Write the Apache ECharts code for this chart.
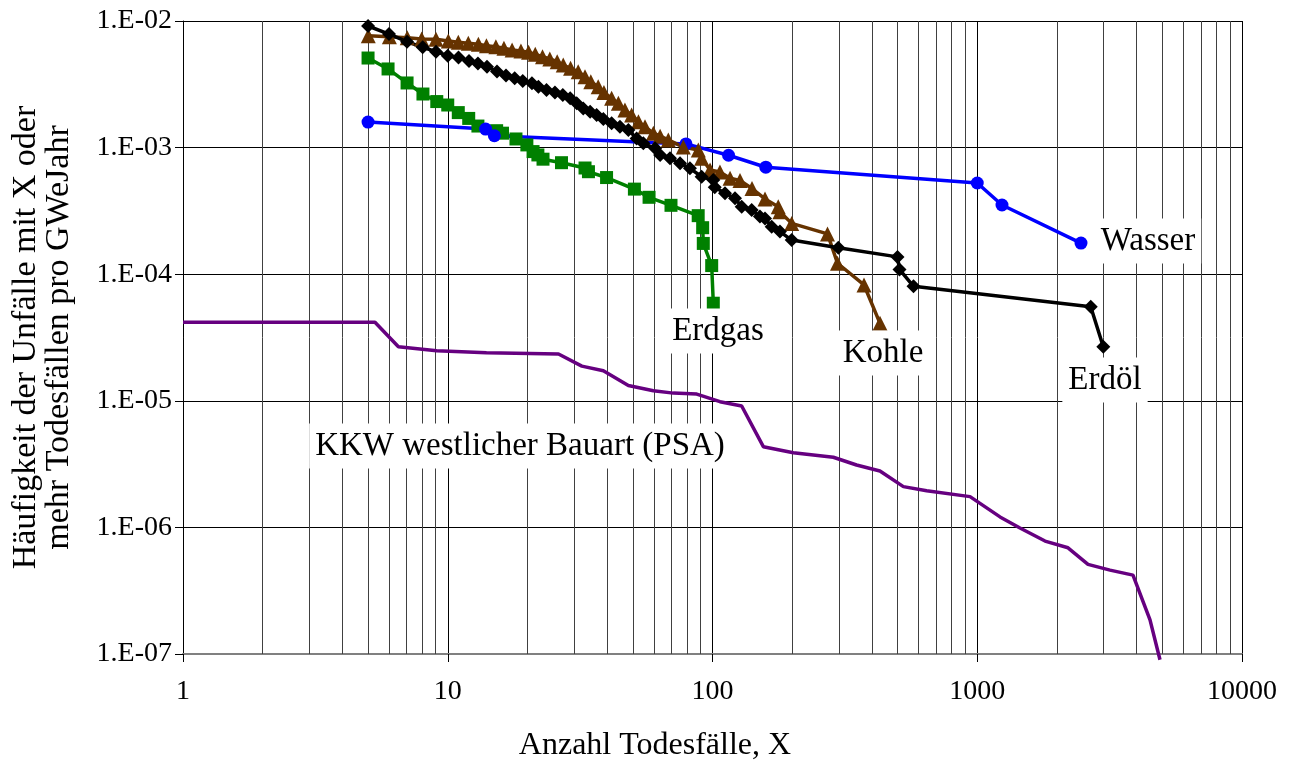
<!DOCTYPE html>
<html>
<head>
<meta charset="utf-8">
<script src="https://cdn.jsdelivr.net/npm/echarts@6/dist/echarts.min.js"></script>
<style>
  html, body { margin: 0; padding: 0; background: #fff; }
  #chart { width: 1293px; height: 767px; }
</style>
</head>
<body>
<div id="chart"></div>
<script>
// Wasser (hydro)
const wasserX = [5, 13.9, 15, 79.4, 115, 159, 1000, 1240, 2465];
const wasserY = [1.59e-3, 1.40e-3, 1.24e-3, 1.07e-3, 8.7e-4, 7.0e-4, 5.25e-4, 3.52e-4, 1.76e-4];

// Erdgas (natural gas)
const erdgasX = [5.0, 5.95, 7.02, 8.06, 9.09, 10.0, 10.96, 12.0, 13.0, 15.3, 16.1, 18.1, 19.9, 21.0,
  21.9, 22.9, 26.9, 33.0, 34.0, 39.8, 50.7, 57.6, 69.7, 88.3, 91.8, 92.3, 99.3, 100.7];
const erdgasY = [5.1e-3, 4.18e-3, 3.24e-3, 2.65e-3, 2.31e-3, 2.17e-3, 1.89e-3, 1.70e-3, 1.48e-3, 1.36e-3,
  1.30e-3, 1.17e-3, 1.05e-3, 9.3e-4, 8.75e-4, 8.1e-4, 7.6e-4, 6.9e-4, 6.45e-4, 5.8e-4, 4.7e-4, 4.05e-4,
  3.5e-4, 2.9e-4, 2.33e-4, 1.75e-4, 1.17e-4, 5.9e-5];

// Kohle (coal)
const kohleX = [5.01, 6.02, 7.03, 7.97, 9.03, 10.05, 10.96, 11.96, 13.05, 14.0, 15.2, 16.3, 17.5, 18.9,
  20.2, 21.4, 22.8, 24.3, 25.9, 27.3, 29.1, 31.1, 33.0, 34.7, 37.0, 38.9, 41.6, 44.1, 46.7, 49.5, 52.5,
  55.6, 59.8, 63.4, 68.1, 77.6, 88.4, 91.0, 97.9, 106.7, 116.5, 127.0, 141.0, 157.9, 177.2, 179.8, 199.1,
  271.9, 296.6, 373.5, 429.3];
const kohleY = [7.65e-3, 7.52e-3, 7.38e-3, 7.21e-3, 7.17e-3, 6.95e-3, 6.79e-3, 6.66e-3, 6.55e-3, 6.38e-3,
  6.27e-3, 6.09e-3, 5.90e-3, 5.79e-3, 5.66e-3, 5.45e-3, 5.22e-3, 5.01e-3, 4.77e-3, 4.49e-3, 4.23e-3,
  3.98e-3, 3.63e-3, 3.31e-3, 3.03e-3, 2.73e-3, 2.45e-3, 2.24e-3, 1.98e-3, 1.81e-3, 1.60e-3, 1.46e-3,
  1.30e-3, 1.23e-3, 1.15e-3, 1.01e-3, 9.57e-4, 8.23e-4, 6.65e-4, 6.42e-4, 5.72e-4, 5.50e-4, 4.75e-4,
  3.93e-4, 3.41e-4, 3.12e-4, 2.52e-4, 2.08e-4, 1.22e-4, 8.22e-5, 4.09e-5];

// Erdöl (oil)
const erdoelX = [5.00, 6.00, 7.02, 8.04, 9.03, 10.0, 10.98, 12.03, 13.0, 14.07, 15.35, 16.6, 17.9, 19.2,
  20.8, 22.0, 23.6, 25.4, 27.2, 29.0, 30.7, 32.5, 34.5, 36.5, 38.7, 41.6, 44.7, 48.1, 51.7, 54.8, 60.7,
  63.4, 69.1, 75.4, 82.2, 91.0, 100.7, 102, 111.5, 121.6, 128.9, 140.6, 151.1, 157.9, 167.3, 179.8,
  199.1, 298.7, 499.8, 508.5, 574.4, 2683, 2993];
const erdoelY = [9.13e-3, 7.89e-3, 6.86e-3, 6.20e-3, 5.72e-3, 5.32e-3, 5.15e-3, 4.83e-3, 4.62e-3, 4.36e-3,
  3.99e-3, 3.71e-3, 3.53e-3, 3.36e-3, 3.22e-3, 3.03e-3, 2.85e-3, 2.73e-3, 2.60e-3, 2.45e-3, 2.24e-3,
  2.04e-3, 1.92e-3, 1.81e-3, 1.68e-3, 1.56e-3, 1.46e-3, 1.38e-3, 1.18e-3, 1.08e-3, 9.87e-4, 8.74e-4,
  8.23e-4, 7.52e-4, 6.86e-4, 5.89e-4, 5.55e-4, 4.86e-4, 4.36e-4, 3.98e-4, 3.41e-4, 3.21e-4, 2.85e-4,
  2.76e-4, 2.37e-4, 2.17e-4, 1.86e-4, 1.62e-4, 1.37e-4, 1.09e-4, 8.02e-5, 5.54e-5, 2.67e-5];

// KKW westlicher Bauart (PSA)
const kkwX = [1, 5.31, 6.51, 9.08, 14.0, 26.2, 32.1, 38.7, 48.1, 59.8, 71.1, 87.2, 106.7, 128.9, 155.6,
  202, 286, 350, 429, 526, 644, 939, 1219, 1450, 1803, 2202, 2620, 3173, 3875, 4493, 4900];
const kkwY = [4.17e-5, 4.17e-5, 2.67e-5, 2.49e-5, 2.40e-5, 2.34e-5, 1.88e-5, 1.73e-5, 1.32e-5, 1.20e-5,
  1.15e-5, 1.13e-5, 9.84e-6, 9.10e-6, 4.34e-6, 3.89e-6, 3.58e-6, 3.11e-6, 2.79e-6, 2.10e-6, 1.95e-6,
  1.75e-6, 1.21e-6, 9.9e-7, 7.8e-7, 6.9e-7, 5.1e-7, 4.6e-7, 4.2e-7, 1.86e-7, 9.0e-8];

// vertical minor grid lines (2..9 in each decade)
const minorGridX = [];
[1, 10, 100, 1000].forEach((d) => {
  [2, 3, 4, 5, 6, 7, 8, 9].forEach((m) => minorGridX.push(m * d));
});

const font = '"Liberation Serif", "Times New Roman", serif';

const pairs = (xs, ys) => xs.map((x, i) => [x, ys[i]]);

const chart = echarts.init(document.getElementById('chart'));

const lineSeries = (name, xs, ys, color, symbol, size, width) => ({
  name: name,
  type: 'line',
  data: pairs(xs, ys),
  symbol: symbol,
  symbolSize: size,
  showSymbol: symbol !== 'none',
  lineStyle: { color: color, width: width || 3 },
  itemStyle: { color: color, borderWidth: 0 },
  z: 5,
});

const options = {
  animation: false,
  backgroundColor: '#fff',
  grid: {
    left: 183,
    right: 51,
    top: 21,
    bottom: 113,
  },
  xAxis: {
    type: 'log',
    logBase: 10,
    min: 1,
    max: 10000,
    name: 'Anzahl Todesfälle, X',
    nameLocation: 'middle',
    nameGap: 76,
    nameTextStyle: {
      fontFamily: font,
      fontSize: 32,
      color: '#000',
      padding: [0, 115, 0, 0],
    },
    axisLine: {
      show: true,
      onZero: false,
      lineStyle: { color: '#808080', width: 2 },
    },
    axisTick: {
      show: true,
      length: 8,
      lineStyle: { color: '#000' },
    },
    axisLabel: {
      fontFamily: font,
      fontSize: 28,
      color: '#000',
      margin: 24,
      formatter: (v) => String(Math.round(v)),
    },
    splitLine: {
      show: true,
      lineStyle: { color: '#000', width: 1 },
    },
  },
  yAxis: {
    type: 'log',
    logBase: 10,
    min: 1e-7,
    max: 1e-2,
    name: 'Häufigkeit der Unfälle mit X oder\nmehr Todesfällen pro GWeJahr',
    nameLocation: 'middle',
    nameGap: 107,
    nameTextStyle: {
      fontFamily: font,
      fontSize: 34,
      lineHeight: 33,
      color: '#000',
    },
    axisLine: {
      show: true,
      onZero: false,
      lineStyle: { color: '#000', width: 1 },
    },
    axisTick: {
      show: true,
      length: 8,
      lineStyle: { color: '#000' },
    },
    axisLabel: {
      fontFamily: font,
      fontSize: 28,
      color: '#000',
      margin: 11,
      formatter: (v) => {
        const e = Math.round(Math.log10(v));
        return '1.E' + (e < 0 ? '-' : '+') + String(Math.abs(e)).padStart(2, '0');
      },
    },
    splitLine: {
      show: true,
      lineStyle: { color: '#000', width: 1 },
    },
  },
  series: [
    {
      // carries the minor vertical grid lines
      type: 'line',
      data: [],
      silent: true,
      z: 1,
      markLine: {
        silent: true,
        symbol: 'none',
        label: { show: false },
        lineStyle: { color: '#404040', width: 1, type: 'solid' },
        data: minorGridX.map((v) => ({ xAxis: v })),
      },
    },
    Object.assign(lineSeries('KKW', kkwX, kkwY, '#660080', 'none', 0, 3.5), { clip: false }),
    lineSeries('Erdgas', erdgasX, erdgasY, '#008000', 'rect', 13, 3.5),
    lineSeries('Wasser', wasserX, wasserY, '#0000ff', 'circle', 13, 3.5),
    lineSeries('Kohle', kohleX, kohleY, '#663300', 'triangle', 15, 3.5),
    lineSeries('Erdöl', erdoelX, erdoelY, '#000000', 'diamond', 14, 3.5),
  ],
  graphic: [
    ['Wasser', 1148, 241],
    ['Erdgas', 718, 331],
    ['Kohle', 883, 353],
    ['Erdöl', 1105, 380],
    ['KKW westlicher Bauart (PSA)', 520, 446],
  ].map((l) => ({
    type: 'text',
    x: l[1],
    y: l[2],
    z: 100,
    style: {
      text: l[0],
      font: '33px ' + font,
      fill: '#000',
      align: 'center',
      verticalAlign: 'middle',
      backgroundColor: '#fff',
      padding: [6, 6],
    },
  })),
};

chart.setOption(options);
</script>
</body>
</html>
